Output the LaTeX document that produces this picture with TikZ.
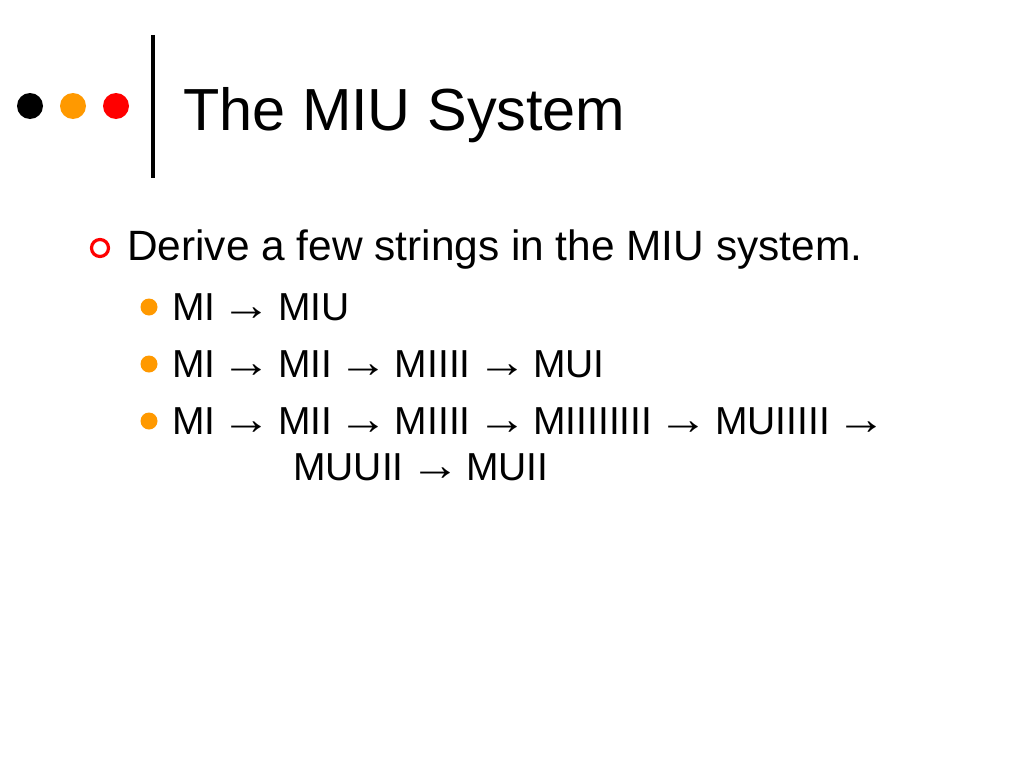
\documentclass[tikz,border=0pt]{standalone}
\usepackage{graphicx}
\usepackage{fontspec}
\setmainfont{Liberation Sans}
\newfontfamily\arrowfont{Liberation Serif}
\newcommand{\arr}{\kern-4.5pt\scalebox{1.28}[1.15]{\arrowfont →}\kern-4.5pt}
\begin{document}
\begin{tikzpicture}[x=1pt,y=-1pt,
  title/.style={anchor=base west,inner sep=0pt,font=\fontsize{59.4}{66}\selectfont},
  lvlone/.style={anchor=base west,inner sep=0pt,font=\fontsize{42.4}{48}\selectfont},
  lvltwo/.style={anchor=base west,inner sep=0pt,font=\fontsize{39}{45}\selectfont}]
\definecolor{dotorange}{RGB}{255,153,0}
\definecolor{dotred}{RGB}{255,0,0}
\useasboundingbox[fill=white] (0,0) rectangle (1024,768);
% header dots
\fill[black] (30,106) circle (13);
\fill[dotorange] (73,106) circle (13);
\fill[dotred] (116,106) circle (13);
\draw[line width=4pt] (153,35) -- (153,178);
\node[title] (t) at (183,130) {The MIU System};
% first level
\draw[dotred,line width=3.2pt] (100,248) circle (8.5);
\node[lvlone] (l1) at (127,260) {Derive a few strings in the MIU system.};
% second level
\fill[dotorange] (149,307) circle (8.5);
\fill[dotorange] (149,364) circle (8.5);
\fill[dotorange] (149,421) circle (8.5);
\node[lvltwo] (a) at (172,320) {MI \arr{} MIU};
\node[lvltwo] (b) at (172,377) {MI \arr{} MII \arr{} MIIII \arr{} MUI};
\node[lvltwo] (c) at (172,434) {MI \arr{} MII \arr{} MIIII \arr{} MIIIIIIII \arr{} MUIIIII \arr};
\node[lvltwo] (d) at (293,480) {MUUII \arr{} MUII};
\end{tikzpicture}
\end{document}
